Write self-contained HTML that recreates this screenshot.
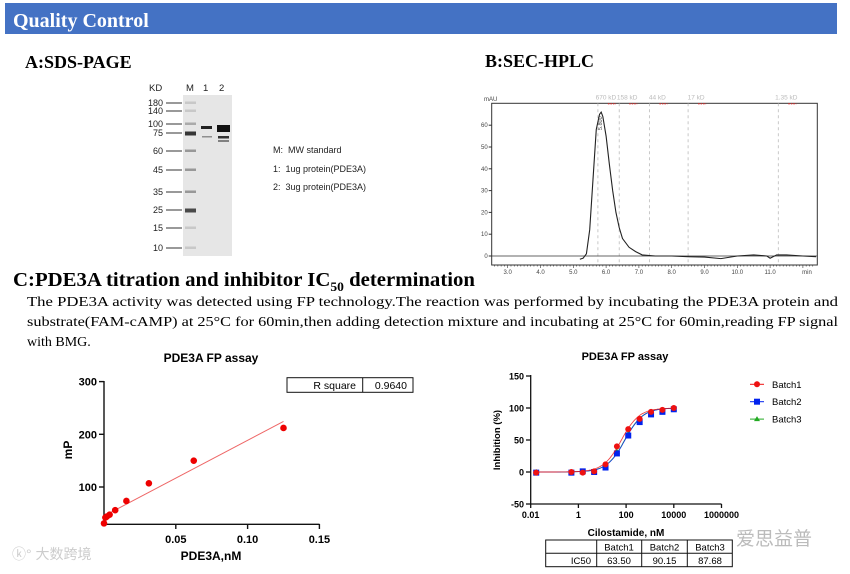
<!DOCTYPE html>
<html><head><meta charset="utf-8"><style>
body{margin:0;background:#fff}
svg{display:block;font-family:"Liberation Sans","Noto Sans CJK SC",sans-serif}
.serif{font-family:"Liberation Serif","Noto Serif CJK SC",serif}
.pre{white-space:pre}
</style></head><body>
<svg id="s" width="850" height="574" viewBox="0 0 850 574" xmlns="http://www.w3.org/2000/svg">
<rect x="5" y="3" width="832" height="31" fill="#4472C4"/>
<text x="13" y="27" class="serif" font-size="20" font-weight="bold" fill="#fff">Quality Control</text>
<text x="25" y="68" class="serif" font-size="18" font-weight="bold">A:SDS-PAGE</text>
<text x="485" y="67" class="serif" font-size="18" font-weight="bold">B:SEC-HPLC</text>
<g id="gel"></g>
<g font-size="9" fill="#222" class="pre">
<text x="273" y="153" class="pre">M:  MW standard</text>
<text x="273" y="172" class="pre">1:  1ug protein(PDE3A)</text>
<text x="273" y="190" class="pre">2:  3ug protein(PDE3A)</text>
</g>
<g id="hplc"></g>
<text x="13" y="286" class="serif" font-size="20" font-weight="bold" textLength="462" lengthAdjust="spacingAndGlyphs">C:PDE3A titration and inhibitor IC<tspan font-size="13" dy="5">50</tspan><tspan dy="-5"> determination</tspan></text>
<g class="serif" font-size="14">
<text x="27" y="306" textLength="811" lengthAdjust="spacingAndGlyphs">The PDE3A activity was detected using FP technology.The reaction was performed by incubating the PDE3A protein and</text>
<text x="27" y="326" textLength="811" lengthAdjust="spacingAndGlyphs">substrate(FAM-cAMP) at 25°C for 60min,then adding detection mixture and incubating at 25°C for 60min,reading FP signal</text>
<text x="27" y="346">with BMG.</text>
</g>
<g id="fp1"></g>
<g id="fp2"></g>
<text x="12" y="559" font-size="14" fill="#ccc">ⓚ° 大数跨境</text>
<text x="736" y="545" font-size="19" fill="#bbb">爱思益普</text>
</svg>
<script>
// ---- SDS-PAGE data
const markerKD=["180","140","100","75","60","45","35","25","15","10"];
const markerY=[103,111,124,133,151,170,192,210,228,248];
// ---- HPLC data
const hplcTime=[5.2,5.3,5.4,5.5,5.6,5.7,5.8,5.85,5.9,6.0,6.1,6.2,6.3,6.4,6.5,6.7,6.9,7.1,7.5,8.0,8.5,9.0,9.5,10.0,10.5,10.9,11.0,11.2,11.5,12.0,12.4];
const hplcMAU=[-1.5,-1,1,12,35,58,65,66,64,55,42,30,20,13,8,4,2,0.5,0,0,-0.3,-0.5,-1.2,0,0.5,0,-1,0.5,0.5,0,-0.3];
const hplcTicksX=[3,4,5,6,7,8,9,10,11];
const hplcTicksY=[0,10,20,30,40,50,60];
const stdNames=["670 kD","158 kD","44 kD","17 kD","1.35 kD"];
const stdTimes=[5.75,6.4,7.32,8.5,11.25];
// ---- titration data
const concNM=[0,0.00098,0.00195,0.0039,0.0078,0.0156,0.03125,0.0625,0.125];
const mP=[31,42,44,47.5,56,73.5,107,150,212];
const fp1TicksX=[0.05,0.10,0.15];
const fp1TicksY=[100,200,300];
// ---- inhibition data
const cilo=[0.017,0.508,1.52,4.57,13.7,41.2,123,370,1111,3333,10000];
const batch1=[-1,0,-1,1,12,40,67,83,94,97,100];
const batch2=[-1,-1,1,0,7,29,57,78,90,94,98];
const batch3=[0,0,0,0,9,32,60,80,90,95,99];
const batchNames=["Batch1","Batch2","Batch3"];
const ic50=[63.50,90.15,87.68];
const fp2TicksX=[0.01,1,100,10000,1000000];
const fp2TicksXLabels=["0.01","1","100","10000","1000000"];
const fp2TicksY=[-50,0,50,100,150];

const NS="http://www.w3.org/2000/svg";
function mk(p,t,a,txt){const e=document.createElementNS(NS,t);for(const k in a)e.setAttribute(k,a[k]);if(txt!==undefined)e.textContent=txt;p.appendChild(e);return e;}

// Gel
(function(){const g=document.getElementById('gel');
mk(g,'rect',{x:183,y:95,width:49,height:161,fill:'#e6e6e6'});
const h=mk(g,'g',{'font-size':'9.5',fill:'#222'});
mk(h,'text',{x:149,y:91},'KD');mk(h,'text',{x:186,y:91},'M');mk(h,'text',{x:203,y:91},'1');mk(h,'text',{x:219,y:91},'2');
markerKD.forEach((k,i)=>{const y=markerY[i];
 const t=mk(g,'text',{x:163,y:y+3,'font-size':'9','text-anchor':'end',fill:'#222'},k);
 
 
 mk(g,'line',{x1:166,x2:182,y1:y,y2:y,stroke:'#333','stroke-width':1});
 const op=[0.15,0.15,0.3,0.9,0.4,0.4,0.4,0.8,0.15,0.15][i];
 const b=mk(g,'rect',{x:185,y:y-1.5,width:11,height:k==='75'||k==='25'?4:2.5,fill:'#222',opacity:op});
 
 
});
mk(g,'rect',{x:201,y:126,width:11,height:3,fill:'#222'});
mk(g,'rect',{x:202,y:136,width:10,height:1.5,fill:'#555',opacity:0.6});
mk(g,'rect',{x:217,y:125,width:13,height:7,fill:'#111'});
mk(g,'rect',{x:218,y:136,width:11,height:2.5,fill:'#333'});
mk(g,'rect',{x:218,y:140,width:11,height:2,fill:'#555',opacity:0.7});
})();

// HPLC
(function(){const g=document.getElementById('hplc');
const X0=491.7,X1=817.3,Y0=103.3,Y1=265;
const sx=t=>507.7+(t-3)*32.8, sy=v=>256-v*2.18;
mk(g,'rect',{x:X0,y:Y0,width:X1-X0,height:Y1-Y0,fill:'none',stroke:'#333','stroke-width':1});
mk(g,'text',{x:484,y:101,'font-size':'6',fill:'#444'},'mAU');
stdTimes.forEach((t,i)=>{const x=sx(t);
 const l=mk(g,'line',{x1:x,x2:x,y1:Y0,y2:Y1,stroke:'#bbb','stroke-dasharray':'3,3','stroke-width':0.8});
 
 
 mk(g,'text',{x:x+8,y:Y0-4,'font-size':'6.5',fill:'#bbb','text-anchor':'middle'},stdNames[i]);
 mk(g,'line',{x1:x+10,x2:x+18,y1:Y0+0.5,y2:Y0+0.5,stroke:'#e33','stroke-dasharray':'1.5,1','stroke-width':1.2});
});
hplcTicksY.forEach(v=>{mk(g,'line',{x1:X0-3,x2:X0,y1:sy(v),y2:sy(v),stroke:'#333'});
 mk(g,'text',{x:X0-4,y:sy(v)+2,'font-size':'6','text-anchor':'end',fill:'#444'},String(v));});
for(let t=2.6;t<=12.3;t+=0.1){mk(g,'line',{x1:sx(t),x2:sx(t),y1:Y1,y2:Y1+(Math.abs(t-Math.round(t))<0.01?3:1.5),stroke:'#333','stroke-width':0.6});}
hplcTicksX.forEach(t=>mk(g,'text',{x:sx(t),y:274,'font-size':'6','text-anchor':'middle',fill:'#444'},t.toFixed(1)));
mk(g,'text',{x:807,y:274,'font-size':'6','text-anchor':'middle',fill:'#444'},'min');
mk(g,'line',{x1:X0,x2:X1,y1:sy(0),y2:sy(0),stroke:'#333','stroke-width':0.8});
const pts=hplcTime.map((t,i)=>sx(t)+','+sy(hplcMAU[i])).join(' ');
const pl=mk(g,'polyline',{points:pts,fill:'none',stroke:'#222','stroke-width':1.1});


mk(g,'text',{x:0,y:0,'font-size':'5.5',fill:'#444',transform:`translate(${sx(5.88)},${sy(66)+18}) rotate(-90)`},'5.800');
})();

// Titration chart
(function(){const g=document.getElementById('fp1');
const sx=c=>104+c*1436, sy=v=>539.7-v*0.527;
mk(g,'text',{x:211,y:362,'font-size':'12','font-weight':'bold','text-anchor':'middle'},'PDE3A FP assay');
mk(g,'line',{x1:104,x2:104,y1:381,y2:525,stroke:'#111','stroke-width':1.4});
mk(g,'line',{x1:103.3,x2:319.5,y1:524.3,y2:524.3,stroke:'#111','stroke-width':1.4});
fp1TicksY.forEach(v=>{mk(g,'line',{x1:99,x2:104,y1:sy(v),y2:sy(v),stroke:'#111','stroke-width':1.4});
 mk(g,'text',{x:97,y:sy(v)+4,'font-size':'11','font-weight':'bold','text-anchor':'end'},String(v));});
fp1TicksX.forEach(c=>{mk(g,'line',{x1:sx(c),x2:sx(c),y1:524,y2:529,stroke:'#111','stroke-width':1.4});
 mk(g,'text',{x:sx(c),y:543,'font-size':'11','font-weight':'bold','text-anchor':'middle'},c.toFixed(2));});
mk(g,'text',{x:211,y:560,'font-size':'12','font-weight':'bold','text-anchor':'middle'},'PDE3A,nM');
mk(g,'text',{x:0,y:0,'font-size':'12','font-weight':'bold','text-anchor':'middle',transform:'translate(72,450) rotate(-90)'},'mP');
const n=concNM.length;const mx=concNM.reduce((a,b)=>a+b)/n,my=mP.reduce((a,b)=>a+b)/n;
let sxy=0,sxx=0;concNM.forEach((c,i)=>{sxy+=(c-mx)*(mP[i]-my);sxx+=(c-mx)*(c-mx);});
const k=sxy/sxx,b=my-k*mx;const cmax=concNM[n-1];
const fl=mk(g,'line',{x1:sx(0),y1:sy(b),x2:sx(cmax),y2:sy(b+k*cmax),stroke:'#e66','stroke-width':1});


concNM.forEach((c,i)=>{const p=mk(g,'circle',{cx:sx(c),cy:sy(mP[i]),r:3.3,fill:'#e00'});
 
 });
mk(g,'rect',{x:287,y:377.7,width:126,height:14.6,fill:'#fff',stroke:'#111','stroke-width':1});
mk(g,'line',{x1:362.7,x2:362.7,y1:377.7,y2:392.3,stroke:'#111'});
mk(g,'text',{x:356,y:389,'font-size':'10.5','text-anchor':'end'},'R square');
mk(g,'text',{x:407,y:389,'font-size':'10.5','text-anchor':'end'},'0.9640');
})();

// Inhibition chart
(function(){const g=document.getElementById('fp2');
const sx=c=>530.7+(Math.log10(c)+2)*23.85, sy=v=>472-v*0.64;
mk(g,'text',{x:625,y:360,'font-size':'11','font-weight':'bold','text-anchor':'middle'},'PDE3A FP assay');
mk(g,'line',{x1:530.7,x2:530.7,y1:375,y2:504.5,stroke:'#111','stroke-width':1.3});
mk(g,'line',{x1:530,x2:721.5,y1:504,y2:504,stroke:'#111','stroke-width':1.3});
fp2TicksY.forEach(v=>{mk(g,'line',{x1:526,x2:530.7,y1:sy(v),y2:sy(v),stroke:'#111','stroke-width':1.3});
 mk(g,'text',{x:524,y:sy(v)+3.5,'font-size':'9','font-weight':'bold','text-anchor':'end'},String(v));});
fp2TicksX.forEach((c,i)=>{mk(g,'line',{x1:sx(c),x2:sx(c),y1:504,y2:508,stroke:'#111','stroke-width':1.3});
 mk(g,'text',{x:sx(c),y:518,'font-size':'9','font-weight':'bold','text-anchor':'middle'},fp2TicksXLabels[i]);});
mk(g,'text',{x:626,y:536,'font-size':'10','font-weight':'bold','text-anchor':'middle'},'Cilostamide, nM');
mk(g,'text',{x:0,y:0,'font-size':'9.5','font-weight':'bold','text-anchor':'middle',transform:'translate(500,440) rotate(-90)'},'Inhibition (%)');
const series=[batch3,batch2,batch1],cols=['#2a2','#0022ee','#ee1111'],ics=[ic50[2],ic50[1],ic50[0]];
series.forEach((s,si)=>{let d='';
 for(let L=Math.log10(cilo[0]);L<=4.001;L+=0.05){const c=Math.pow(10,L);const v=100/(1+Math.pow(ics[si]/c,1.15));d+=(d?'L':'M')+sx(c).toFixed(1)+','+sy(v).toFixed(1);}
 const p=mk(g,'path',{d:d,fill:'none',stroke:cols[si],'stroke-width':0.9,opacity:0.8});
 
 
 s.forEach((v,i)=>{const x=sx(cilo[i]),y=sy(v);let m;
  if(si===2)m=mk(g,'circle',{cx:x,cy:y,r:3,fill:cols[si]});
  else if(si===1)m=mk(g,'rect',{x:x-3,y:y-3,width:6,height:6,fill:cols[si]});
  else m=mk(g,'path',{d:`M${x},${y-3}L${x+3},${y+2}L${x-3},${y+2}Z`,fill:cols[si]});
  
  });
});
const lc=['#ee1111','#0022ee','#2a2'];
batchNames.forEach((nm,i)=>{const y=384.3+i*17.4;
 const lg=mk(g,'g',{});
 
 
 mk(lg,'line',{x1:750,x2:764,y1:y,y2:y,stroke:lc[i],'stroke-width':1});
 if(i===0)mk(lg,'circle',{cx:757,cy:y,r:3,fill:lc[i]});
 else if(i===1)mk(lg,'rect',{x:754,y:y-3,width:6,height:6,fill:lc[i]});
 else mk(lg,'path',{d:`M757,${y-3}L760,${y+2}L754,${y+2}Z`,fill:lc[i]});
 mk(lg,'text',{x:772,y:y+3.5,'font-size':'9.5'},nm);});
const T=mk(g,'g',{});


mk(T,'rect',{x:545.7,y:540,width:186.6,height:26.7,fill:'none',stroke:'#111','stroke-width':1});
mk(T,'line',{x1:545.7,x2:732.3,y1:553.3,y2:553.3,stroke:'#111'});
[596.7,641.7,687.3].forEach(x=>mk(T,'line',{x1:x,x2:x,y1:540,y2:566.7,stroke:'#111'}));
const cx=[619,664.5,710];
batchNames.forEach((nm,i)=>mk(T,'text',{x:cx[i],y:550.5,'font-size':'9.5','text-anchor':'middle'},nm));
mk(T,'text',{x:591,y:564,'font-size':'9.5','text-anchor':'end'},'IC50');
ic50.forEach((v,i)=>mk(T,'text',{x:cx[i],y:564,'font-size':'9.5','text-anchor':'middle'},v.toFixed(2)));
})();
</script>
</body></html>
